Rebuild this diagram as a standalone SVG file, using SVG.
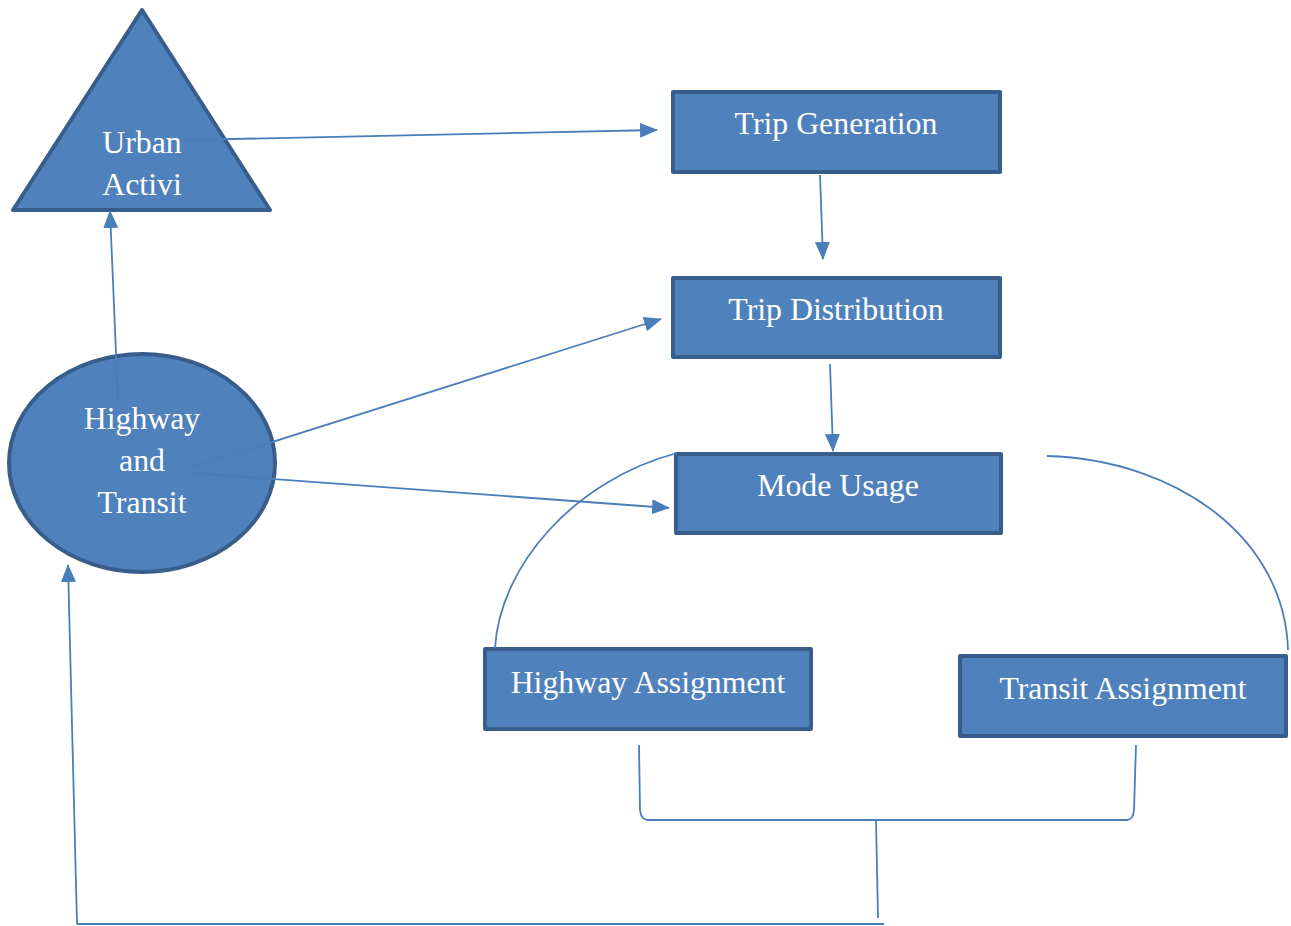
<svg xmlns="http://www.w3.org/2000/svg" width="1291" height="926" viewBox="0 0 1291 926">
<style>
.shape{fill:#4F81BD;stroke:#385D8A;stroke-width:4;stroke-linejoin:round}
.lbl{font-family:"Liberation Serif","Times New Roman",serif;font-size:31.8px;fill:#FFFFFF;text-anchor:middle}
.con{fill:none;stroke:#4A7EBB;stroke-width:1.8}
.arr{marker-end:url(#ah)}
</style>
<defs>
<marker id="ah" markerUnits="userSpaceOnUse" markerWidth="18" markerHeight="15" viewBox="0 0 18 15" refX="17" refY="7.5" orient="auto">
<path d="M0,0 L18,7.5 L0,15 Z" fill="#4A7EBB"/>
</marker>
</defs>
<g id="urban-activi">
<polygon class="shape" points="142,10 270,210 13,210"/>
<text class="lbl" x="142" y="153">Urban</text>
<text class="lbl" x="142" y="195">Activi</text>
</g>
<g id="highway-transit">
<ellipse class="shape" cx="142" cy="463" rx="133" ry="109"/>
<text class="lbl" x="142" y="429">Highway</text>
<text class="lbl" x="142" y="471">and</text>
<text class="lbl" x="142" y="513">Transit</text>
</g>
<g id="trip-generation">
<rect class="shape" x="673" y="92" width="327" height="80"/>
<text class="lbl" x="836" y="134">Trip Generation</text>
</g>
<g id="trip-distribution">
<rect class="shape" x="673" y="278" width="327" height="79"/>
<text class="lbl" x="836" y="320">Trip Distribution</text>
</g>
<g id="mode-usage">
<rect class="shape" x="676" y="454" width="325" height="79"/>
<text class="lbl" x="838" y="496">Mode Usage</text>
</g>
<g id="highway-assignment">
<rect class="shape" x="485" y="649" width="326" height="80"/>
<text class="lbl" x="648" y="693">Highway Assignment</text>
</g>
<g id="transit-assignment">
<rect class="shape" x="960" y="656" width="326" height="80"/>
<text class="lbl" x="1123" y="699">Transit Assignment</text>
</g>
<g id="connectors">
<path class="con arr" d="M185,140 L657,130"/>
<path class="con arr" d="M820,175 L823,259"/>
<path class="con arr" d="M830,364 L833,451"/>
<path class="con arr" d="M118,400 L110,211"/>
<path class="con arr" d="M190,468 L661,319"/>
<path class="con arr" d="M190,473 L669,508"/>
<path class="con" d="M495,648 C500,565 575,480 677,453"/>
<path class="con" d="M1047,456 C1180,460 1285,540 1288,650"/>
<path class="con" d="M639,745 L640,810 Q641,820 648,820 L1127,820 Q1133,820 1134,810 L1136,745"/>
<path class="con" d="M876,820 L878,918"/>
<path class="con" d="M884,924 L77,924"/>
<path class="con arr" d="M77,924 L68,565"/>
</g>
</svg>
